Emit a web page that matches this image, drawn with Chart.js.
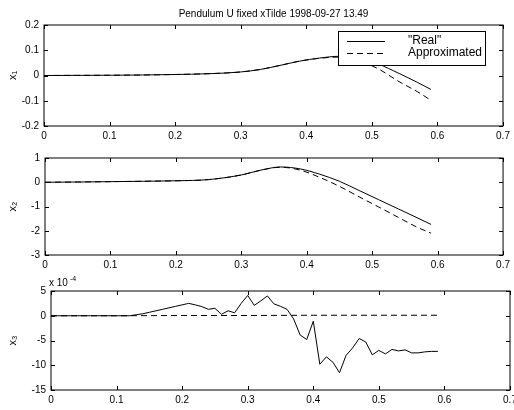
<!DOCTYPE html>
<html>
<head>
<meta charset="utf-8">
<script src="https://cdn.jsdelivr.net/npm/chart.js@4.4.1/dist/chart.umd.min.js"></script>
<style>
  html, body { margin: 0; padding: 0; background: #fff; overflow: hidden; width: 514px; height: 410px; }
  canvas { position: absolute; left: 0; }
</style>
</head>
<body>
<canvas id="c1" width="514" height="150" style="top:0px"></canvas>
<canvas id="c2" width="514" height="135" style="top:145px"></canvas>
<canvas id="c3" width="530" height="140" style="top:270px"></canvas>
<script>
// time points (s) for the two smooth states
const tSmooth = [0, 0.05, 0.1, 0.15, 0.2, 0.25, 0.3, 0.33, 0.36, 0.39, 0.42, 0.45, 0.48, 0.51, 0.54, 0.57, 0.59];
const x1Real   = [0, 0.0005, 0.001, 0.002, 0.004, 0.007, 0.014, 0.024, 0.04, 0.057, 0.069, 0.076, 0.068, 0.045, 0.01, -0.028, -0.055];
const x1Approx = [0, 0.0005, 0.001, 0.002, 0.004, 0.007, 0.014, 0.024, 0.04, 0.057, 0.068, 0.073, 0.058, 0.026, -0.022, -0.065, -0.098];
const x2Real   = [0, 0.01, 0.025, 0.04, 0.06, 0.11, 0.3, 0.5, 0.63, 0.55, 0.33, 0.04, -0.34, -0.72, -1.1, -1.48, -1.74];
const x2Approx = [0, 0.01, 0.025, 0.04, 0.06, 0.11, 0.3, 0.5, 0.62, 0.5, 0.2, -0.17, -0.6, -1.02, -1.45, -1.87, -2.1];

// x3 (units of 1e-4)
const tFine = [0, 0.01, 0.02, 0.03, 0.04, 0.05, 0.06, 0.07, 0.08, 0.09,
  0.1, 0.11, 0.12, 0.13, 0.14, 0.15, 0.16, 0.17, 0.18, 0.19,
  0.2, 0.21, 0.22, 0.23, 0.24, 0.25, 0.26, 0.27, 0.28, 0.29,
  0.3, 0.31, 0.32, 0.33, 0.34, 0.35, 0.36, 0.37, 0.38, 0.39,
  0.4, 0.41, 0.42, 0.43, 0.44, 0.45, 0.46, 0.47, 0.48, 0.49,
  0.5, 0.51, 0.52, 0.53, 0.54, 0.55, 0.56, 0.57, 0.58, 0.59];
const x3Real = [0, 0, 0, 0, 0, 0, 0, 0, 0, 0,
  0, 0, 0, 0.2, 0.4, 0.7, 1.0, 1.3, 1.6, 1.9,
  2.2, 2.5, 2.2, 1.85, 1.3, 1.5, 0.3, 1.0, 0.6, 2.5,
  4.1, 2.1, 3.0, 4.0, 2.4, 1.9, 1.3, -0.65, -3.9, -4.8,
  -1.1, -9.8, -8.3, -9.4, -11.5, -8.0, -6.5, -4.6, -5.3, -7.9,
  -7.0, -7.7, -6.8, -7.1, -6.9, -7.5, -7.5, -7.3, -7.2, -7.2];
const tCoarse = [0, 0.1, 0.2, 0.3, 0.4, 0.5, 0.59];
const x3Approx = [0, 0, 0.05, 0.05, 0.1, 0.1, 0.1];

const xTicks = [0, 0.1, 0.2, 0.3, 0.4, 0.5, 0.6, 0.7];

Chart.defaults.font.family = "'Liberation Sans', Arial, sans-serif";
Chart.defaults.font.size = 10;
Chart.defaults.color = '#000';

const pts = (t, v) => t.map((x, i) => ({x: x, y: v[i]}));

// MATLAB style box with inward ticks
const boxTicks = {
  id: 'boxTicks',
  afterDraw(chart) {
    const {ctx, chartArea: a, scales: {x, y}} = chart;
    ctx.save();
    ctx.strokeStyle = '#000';
    ctx.lineWidth = 1;
    ctx.strokeRect(a.left, a.top, a.width, a.height);
    ctx.beginPath();
    x.ticks.forEach((t, i) => {
      const px = Math.round(x.getPixelForTick(i)) + 0.5;
      ctx.moveTo(px, a.bottom); ctx.lineTo(px, a.bottom - 4);
      ctx.moveTo(px, a.top); ctx.lineTo(px, a.top + 4);
    });
    y.ticks.forEach((t, i) => {
      const py = Math.round(y.getPixelForTick(i)) + 0.5;
      ctx.moveTo(a.left, py); ctx.lineTo(a.left + 4, py);
      ctx.moveTo(a.right, py); ctx.lineTo(a.right - 4, py);
    });
    ctx.stroke();
    ctx.restore();
  }
};

const boxLegend = {
  id: 'boxLegend',
  afterDatasetsDraw(chart) {
    const {ctx, chartArea: a} = chart;
    const L = a.right - 165, T = a.top + 6, W = 147, H = 34;
    ctx.save();
    ctx.fillStyle = '#fff';
    ctx.fillRect(L, T, W, H);
    ctx.strokeStyle = '#000';
    ctx.lineWidth = 1;
    ctx.strokeRect(L + 0.5, T + 0.5, W, H);
    ctx.font = "12px 'Liberation Sans', Arial, sans-serif";
    ctx.fillStyle = '#000';
    ctx.textBaseline = 'middle';
    chart.data.datasets.forEach((ds, i) => {
      const yy = T + 10 + i * 12;
      ctx.setLineDash(ds.borderDash || []);
      ctx.beginPath();
      ctx.moveTo(L + 9, yy + 0.5); ctx.lineTo(L + 47, yy + 0.5);
      ctx.stroke();
      ctx.setLineDash([]);
      ctx.fillText(ds.label, L + 70, yy);
    });
    ctx.restore();
  }
};

const exponent = {
  id: 'exponent',
  afterDraw(chart) {
    const {ctx, chartArea: a} = chart;
    ctx.save();
    ctx.fillStyle = '#000';
    ctx.textBaseline = 'middle';
    ctx.font = "10px 'Liberation Sans', Arial, sans-serif";
    ctx.fillText('x 10', a.left - 2, a.top - 8);
    ctx.font = "7px 'Liberation Sans', Arial, sans-serif";
    ctx.fillText('-4', a.left + 19, a.top - 12);
    ctx.restore();
  }
};

function makeChart(id, cfg) {
  return new Chart(document.getElementById(id), {
    type: 'line',
    data: { datasets: cfg.datasets },
    options: {
      responsive: false,
      animation: false,
      layout: { padding: cfg.padding },
      plugins: {
        legend: { display: false },
        tooltip: { enabled: false },
        title: cfg.title || { display: false }
      },
      elements: { point: { radius: 0 }, line: { borderWidth: 1 } },
      scales: {
        x: {
          type: 'linear', min: 0, max: 0.7,
          grid: { display: false, drawTicks: false, tickLength: 0 },
          border: { display: false },
          ticks: { stepSize: 0.1, padding: 4, maxRotation: 0 },
          afterBuildTicks: s => { s.ticks = xTicks.map(v => ({value: v})); },
          afterFit: s => { s.height = cfg.xHeight; }
        },
        y: {
          min: cfg.yMin, max: cfg.yMax,
          grid: { display: false, drawTicks: false, tickLength: 0 },
          border: { display: false },
          ticks: { stepSize: cfg.yStep, padding: 5 },
          title: { display: true, text: cfg.yTitle, font: { size: 11 }, padding: { top: 6 } },
          afterFit: s => { s.width = cfg.yWidth; }
        }
      }
    },
    plugins: cfg.plugins
  });
}

const solid = (label, data, tension) => ({ label, data, borderColor: '#000', borderWidth: 1, tension, cubicInterpolationMode: tension ? 'monotone' : 'default' });
const dashed = (label, data, tension) => ({ label, data, borderColor: '#000', borderWidth: 1, borderDash: [6, 4], tension, cubicInterpolationMode: tension ? 'monotone' : 'default' });

makeChart('c1', {
  datasets: [solid('"Real"', pts(tSmooth, x1Real), 0.4), dashed('Approximated', pts(tSmooth, x1Approx), 0.4)],
  padding: { left: 0, right: 11, top: 0, bottom: 0 },
  title: { display: true, fullSize: false, text: 'Pendulum U fixed xTilde 1998-09-27 13.49',
           font: { size: 10, weight: 'normal' }, padding: { top: 8, bottom: 5 } },
  xHeight: 24, yWidth: 44, yMin: -0.2, yMax: 0.2, yStep: 0.1, yTitle: 'x\u2081',
  plugins: [boxTicks, boxLegend]
});

makeChart('c2', {
  datasets: [solid('"Real"', pts(tSmooth, x2Real), 0.4), dashed('Approximated', pts(tSmooth, x2Approx), 0.4)],
  padding: { left: 0, right: 10, top: 13, bottom: 0 },
  xHeight: 25, yWidth: 45, yMin: -3, yMax: 1, yStep: 1, yTitle: 'x\u2082',
  plugins: [boxTicks]
});

makeChart('c3', {
  datasets: [solid('"Real"', pts(tFine, x3Real), 0), dashed('Approximated', pts(tCoarse, x3Approx), 0)],
  padding: { left: 0, right: 20, top: 21, bottom: 0 },
  xHeight: 20, yWidth: 51, yMin: -15, yMax: 5, yStep: 5, yTitle: 'x\u2083',
  plugins: [boxTicks, exponent]
});
</script>
</body>
</html>
